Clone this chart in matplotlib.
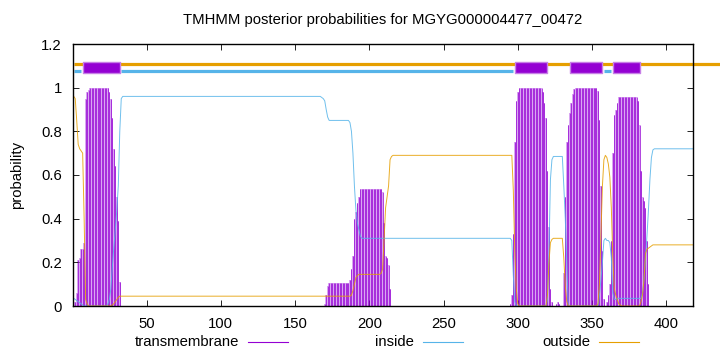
import numpy as np
import matplotlib
matplotlib.use("Agg")
from matplotlib import pyplot as plt
from matplotlib.lines import Line2D

plt.rcParams['font.family'] = ['Liberation Sans', 'DejaVu Sans']

title = "TMHMM posterior probabilities for MGYG000004477_00472"
seq_len = 418

# posterior probabilities per residue (1..418)
tm_prob = ([0.0, 0.02, 0.06, 0.21, 0.22, 0.26, 0.26, 0.29, 0.95, 0.98, 0.99] + [1.0] * 13 +
           [0.98, 0.95, 0.86, 0.72, 0.64, 0.5, 0.39, 0.11] +
           [0.0] * 137 +
           [0.01, 0.05, 0.09] + [0.107] * 14 +
           [0.12, 0.17, 0.23, 0.40, 0.43, 0.47, 0.50, 0.535] + [0.535] * 14 +
           [0.52, 0.38, 0.23, 0.22, 0.19, 0.08, 0.0] +
           [0.0] * 79 +
           [0.01, 0.05, 0.33, 0.75, 0.94, 0.98] + [1.0] * 16 +
           [0.98, 0.93, 0.86, 0.62, 0.36, 0.08, 0.02] +
           [0.0, 0.0, 0.01, 0.02, 0.01, 0.0, 0.0] +
           [0.15, 0.50, 0.75, 0.83, 0.885, 0.93, 0.97, 0.995] + [1.0] * 15 +
           [0.985, 0.85, 0.55, 0.25, 0.03, 0.0] +
           [0.02, 0.05, 0.10, 0.30, 0.70, 0.875, 0.90, 0.93, 0.955] + [0.955] * 12 +
           [0.94, 0.83, 0.62, 0.50, 0.48, 0.45, 0.30, 0.10, 0.0] +
           [0.0] * 29)

inside_prob = ([0.035, 0.03, 0.025, 0.02, 0.015, 0.01, 0.005] + [0.0] * 16 +
               [0.01, 0.03, 0.08, 0.18, 0.27, 0.35, 0.44, 0.55, 0.80, 0.95] +
               [0.96] * 134 +
               [0.955, 0.95, 0.94, 0.90, 0.865, 0.85] + [0.85] * 13 +
               [0.84, 0.80, 0.70, 0.55, 0.44, 0.38, 0.35, 0.32, 0.31] +
               [0.31] * 100 +
               [0.30, 0.14, 0.02, 0.0] + [0.0] * 20 +
               [0.03, 0.25, 0.58, 0.67, 0.685] + [0.685] * 6 +
               [0.55, 0.40, 0.20] + [0.0] * 21 +
               [0.05, 0.12, 0.20, 0.30, 0.31, 0.30, 0.30, 0.29, 0.22, 0.06, 0.03, 0.03] +
               [0.035] * 17 +
               [0.06, 0.12, 0.22, 0.32, 0.44, 0.58, 0.68, 0.715] +
               [0.72] * 27)

outside_prob = ([0.96, 0.95, 0.85, 0.74, 0.72, 0.71, 0.70, 0.40, 0.03, 0.01] + [0.0] * 16 +
                [0.005, 0.01, 0.02, 0.03, 0.04] +
                [0.045] * 156 +
                [0.05, 0.07, 0.10, 0.13, 0.14] + [0.145] * 15 +
                [0.15, 0.17, 0.31, 0.45, 0.50, 0.55, 0.67, 0.685] +
                [0.69] * 81 +
                [0.53, 0.25, 0.08, 0.01, 0.0] + [0.0] * 18 +
                [0.05, 0.20, 0.29, 0.305] + [0.31] * 7 +
                [0.22, 0.09, 0.02, 0.0] + [0.0] * 19 +
                [0.01, 0.10, 0.33, 0.55, 0.67, 0.69, 0.68, 0.65, 0.59, 0.45, 0.22, 0.08,
                 0.05, 0.03, 0.01, 0.005] +
                [0.0] * 13 +
                [0.02, 0.05, 0.12, 0.24, 0.26, 0.265, 0.27, 0.275, 0.28] +
                [0.28] * 27)

# predicted topology (residue ranges)
tm_segments = [(7, 32), (298, 320), (335, 357), (364, 382)]
inside_segments = [(1, 6), (33, 297), (358, 363)]
outside_segments = [(1, 440)]

xticks = [50, 100, 150, 200, 250, 300, 350, 400]
yticks = [0, 0.2, 0.4, 0.6, 0.8, 1.0, 1.2]

c_tm = '#9400d3'
c_in = '#56b4e9'
c_out = '#e69f00'
fs = 10.7

res = np.arange(1, seq_len + 1)

fig = plt.figure(figsize=(7.2, 3.52), dpi=100)
ax = fig.add_axes([73 / 720, 1 - 306 / 352, 620 / 720, 262 / 352])

# TM posterior as impulses
ax.bar(res, tm_prob, width=1.0, color='#d9a6f2', linewidth=0)
ax.vlines(res, 0, tm_prob, color=c_tm, lw=0.6, alpha=0.85)
ax.plot(res, inside_prob, color=c_in, lw=0.7, alpha=0.85)
ax.plot(res, outside_prob, color=c_out, lw=0.7, alpha=0.85)

# topology bar on top
for a, b in outside_segments:
    ax.plot([a, b], [1.11, 1.11], color=c_out, lw=2.3, clip_on=False, solid_capstyle='butt')
for a, b in inside_segments:
    ax.plot([a, b], [1.075, 1.075], color=c_in, lw=2.3, solid_capstyle='butt')
ax.broken_barh([(a, b - a) for a, b in tm_segments], (1.068, 0.048),
               facecolor=c_tm, edgecolor='#c77fe6', lw=1.0, zorder=3)

ax.set_xlim(0.5, seq_len)
ax.set_ylim(0, 1.2)
ax.set_xticks(xticks)
ax.set_yticks(yticks)
ax.set_yticklabels(['%g' % v for v in yticks])
ax.tick_params(direction='in', top=True, right=True, length=4, width=0.6,
               labelsize=fs, pad=8)
for s in ax.spines.values():
    s.set_linewidth(1.0)
ax.set_ylabel('probability', fontsize=fs, labelpad=12)

fig.text(383 / 720, 1 - 20 / 352, title, ha='center', va='center', fontsize=fs)

# key below the plot
leg_labels = ['transmembrane', 'inside', 'outside']
leg_colors = [c_tm, c_in, c_out]
leg_text_right = [239, 414, 590]
ly = 1 - 342 / 352
for lab, col, xr in zip(leg_labels, leg_colors, leg_text_right):
    fig.text(xr / 720, ly, lab, ha='right', va='center', fontsize=fs)
    fig.add_artist(Line2D([(xr + 9) / 720, (xr + 49) / 720], [ly, ly], color=col, lw=0.8))

plt.savefig('out.png', dpi=100)
